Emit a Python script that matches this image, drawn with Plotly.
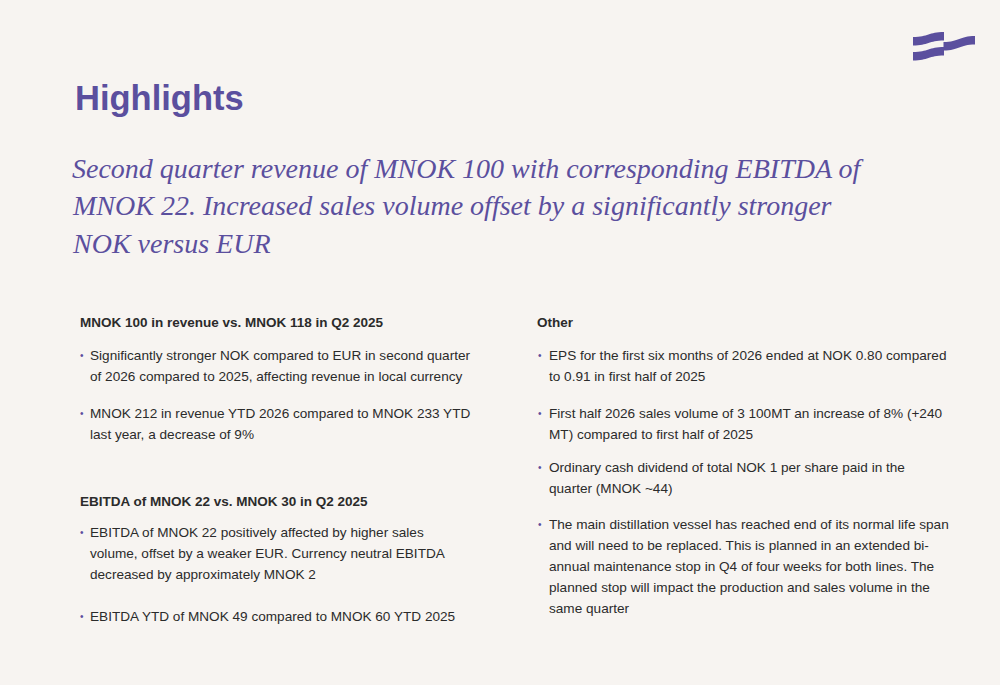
import plotly.graph_objects as go

W, H = 1000, 685
BG = "#f7f4f1"
PURPLE = "#5b4f9e"
TEXT = "#2b2b2b"
SANS = "Liberation Sans, Arial, sans-serif"
SERIF = "Georgia, Liberation Serif, serif"

title = "Highlights"
subtitle_lines = [
    "Second quarter revenue of MNOK 100 with corresponding EBITDA of",
    "MNOK 22. Increased sales volume offset by a significantly stronger",
    "NOK versus EUR",
]

left_heading_1 = "MNOK 100 in revenue vs. MNOK 118 in Q2 2025"
left_bullets_1 = [
    ["Significantly stronger NOK compared to EUR in second quarter",
     "of 2026 compared to 2025, affecting revenue in local currency"],
    ["MNOK 212 in revenue YTD 2026 compared to MNOK 233 YTD",
     "last year, a decrease of 9%"],
]
left_heading_2 = "EBITDA of MNOK 22 vs. MNOK 30 in Q2 2025"
left_bullets_2 = [
    ["EBITDA of MNOK 22 positively affected by higher sales",
     "volume, offset by a weaker EUR. Currency neutral EBITDA",
     "decreased by approximately MNOK 2"],
    ["EBITDA YTD of MNOK 49 compared to MNOK 60 YTD 2025"],
]
right_heading = "Other"
right_bullets = [
    ["EPS for the first six months of 2026 ended at NOK 0.80 compared",
     "to 0.91 in first half of 2025"],
    ["First half 2026 sales volume of 3 100MT an increase of 8% (+240",
     "MT) compared to first half of 2025"],
    ["Ordinary cash dividend of total NOK 1 per share paid in the",
     "quarter (MNOK ~44)"],
    ["The main distillation vessel has reached end of its normal life span",
     "and will need to be replaced. This is planned in an extended bi-",
     "annual maintenance stop in Q4 of four weeks for both lines. The",
     "planned stop will impact the production and sales volume in the",
     "same quarter"],
]

fig = go.Figure()
ann = []

def txt(x, y, s, size, color=TEXT, family=SANS, bold=False, italic=False):
    if bold:
        s = "<b>" + s + "</b>"
    if italic:
        s = "<i>" + s + "</i>"
    ann.append(dict(x=x, y=y, xref="x", yref="y", text=s, showarrow=False,
                    xanchor="left", yanchor="middle",
                    font=dict(family=family, size=size, color=color)))

# Title
txt(73, 98, title, 34.5, color=PURPLE, bold=True)
# Subtitle
for i, line in enumerate(subtitle_lines):
    txt(70, 168 + i * 37.5, line, 28, color=PURPLE, family=SERIF, italic=True)

LH = 21
BODY = 13.6

def column(x_head, x_dot, x_text, blocks):
    for kind, y, content in blocks:
        if kind == "h":
            txt(x_head, y, content, 13.5, bold=True)
        else:
            txt(x_dot, y, "•", 10, color=PURPLE)
            for j, line in enumerate(content):
                txt(x_text, y + j * LH, line, BODY)

column(78, 78, 88, [
    ("h", 322, left_heading_1),
    ("b", 355, left_bullets_1[0]),
    ("b", 413, left_bullets_1[1]),
    ("h", 501, left_heading_2),
    ("b", 532, left_bullets_2[0]),
    ("b", 616, left_bullets_2[1]),
])
column(535, 536, 547, [
    ("h", 322, right_heading),
    ("b", 355, right_bullets[0]),
    ("b", 413, right_bullets[1]),
    ("b", 467, right_bullets[2]),
    ("b", 524, right_bullets[3]),
])

# Logo: three wavy bands
def band(x0, x1, yl, yr, t):
    xm = (x0 + x1) / 2
    top = f"M {x0},{yl} C {xm},{yl} {xm},{yr} {x1},{yr}"
    bot = f" L {x1},{yr + t} C {xm},{yr + t} {xm},{yl + t} {x0},{yl + t} Z"
    return top + bot

shapes = [
    dict(type="path", path=band(913, 944, 37, 32, 8.5), xref="x", yref="y",
         fillcolor=PURPLE, line=dict(width=0)),
    dict(type="path", path=band(943.5, 975, 42, 36, 8.5), xref="x", yref="y",
         fillcolor=PURPLE, line=dict(width=0)),
    dict(type="path", path=band(913, 944, 52, 47, 8.5), xref="x", yref="y",
         fillcolor=PURPLE, line=dict(width=0)),
]

fig.update_layout(
    width=W, height=H, margin=dict(l=0, r=0, t=0, b=0),
    paper_bgcolor=BG, plot_bgcolor=BG,
    xaxis=dict(range=[0, W], visible=False, fixedrange=True),
    yaxis=dict(range=[H, 0], visible=False, fixedrange=True),
    annotations=ann, shapes=shapes, showlegend=False,
)
fig.write_html(
    "out.html",
    config={"displayModeBar": False},
    post_script="document.body.style.margin='0';document.body.style.background='" + BG + "';",
)
